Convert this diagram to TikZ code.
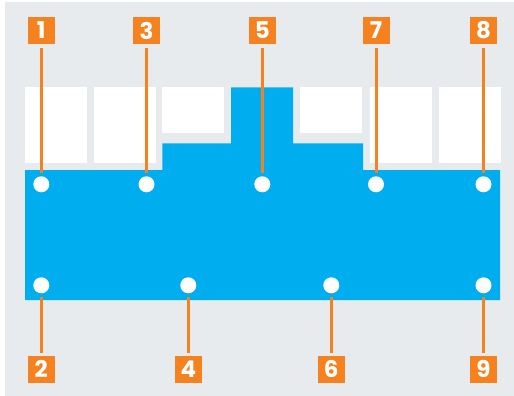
\documentclass[tikz,border=0pt]{standalone}
\usepackage{fontspec}
\newfontfamily\lblfont{Poppins}
\definecolor{bgc}{HTML}{E8EBEE}
\definecolor{bluec}{HTML}{00AEEF}
\definecolor{orangec}{HTML}{F5821F}
\begin{document}
\begin{tikzpicture}[x=1pt,y=-1pt,
  tag/.style={fill=orangec,text=white,minimum size=27pt,inner sep=0pt,font=\lblfont\bfseries\fontsize{23}{23}\selectfont},
  dot/.style={circle,fill=white,minimum size=16pt,inner sep=0pt},
  lead/.style={draw=orangec,line width=3pt,shorten <=3.5pt,shorten >=3pt},
  cell/.style={fill=white}]
\useasboundingbox (0,0) rectangle (514,396);
\fill[white] (0,0) rectangle (514,396);
\fill[bgc] (5,2) rectangle (514,396);
% white cells
\fill[cell] (25,87.3) rectangle (87.3,163);
\fill[cell] (94,87.3) rectangle (156,163);
\fill[cell] (162.3,87.3) rectangle (224,132.7);
\fill[cell] (300,87.3) rectangle (362,132.7);
\fill[cell] (369.7,87.3) rectangle (431.7,163);
\fill[cell] (439,87.3) rectangle (500.7,163);
% blue shape
\fill[bluec] (25,170) -- (162.3,170) -- (162.3,143.3) -- (231,143.3) -- (231,87.3) -- (293,87.3) -- (293,143.3) -- (363,143.3) -- (363,170) -- (500,170) -- (500,300) -- (25,300) -- cycle;
% top labels
\node[tag] (l1) at (41.3,30.5) {1};
\node[tag] (l3) at (146.5,30.5) {3};
\node[tag] (l5) at (262.3,30.5) {5};
\node[tag] (l7) at (376,30.5) {7};
\node[tag] (l8) at (483.5,30.5) {8};
\node[dot] (d1) at (41.3,184.3) {};
\node[dot] (d3) at (146.5,184.3) {};
\node[dot] (d5) at (262.3,184.3) {};
\node[dot] (d7) at (376,184.3) {};
\node[dot] (d8) at (483.5,184.3) {};
\foreach \i in {1,3,5,7,8} \draw[lead] (l\i.south) -- (d\i.north);
% bottom labels
\node[tag] (l2) at (41.3,369.3) {2};
\node[tag] (l4) at (188.3,369.3) {4};
\node[tag] (l6) at (331.3,369.3) {6};
\node[tag] (l9) at (483.5,369.3) {9};
\node[dot] (d2) at (41.3,285.3) {};
\node[dot] (d4) at (188.3,285.3) {};
\node[dot] (d6) at (331.3,285.3) {};
\node[dot] (d9) at (483.5,285.3) {};
\foreach \i in {2,4,6,9} \draw[lead] (d\i.south) -- (l\i.north);
\end{tikzpicture}
\end{document}
